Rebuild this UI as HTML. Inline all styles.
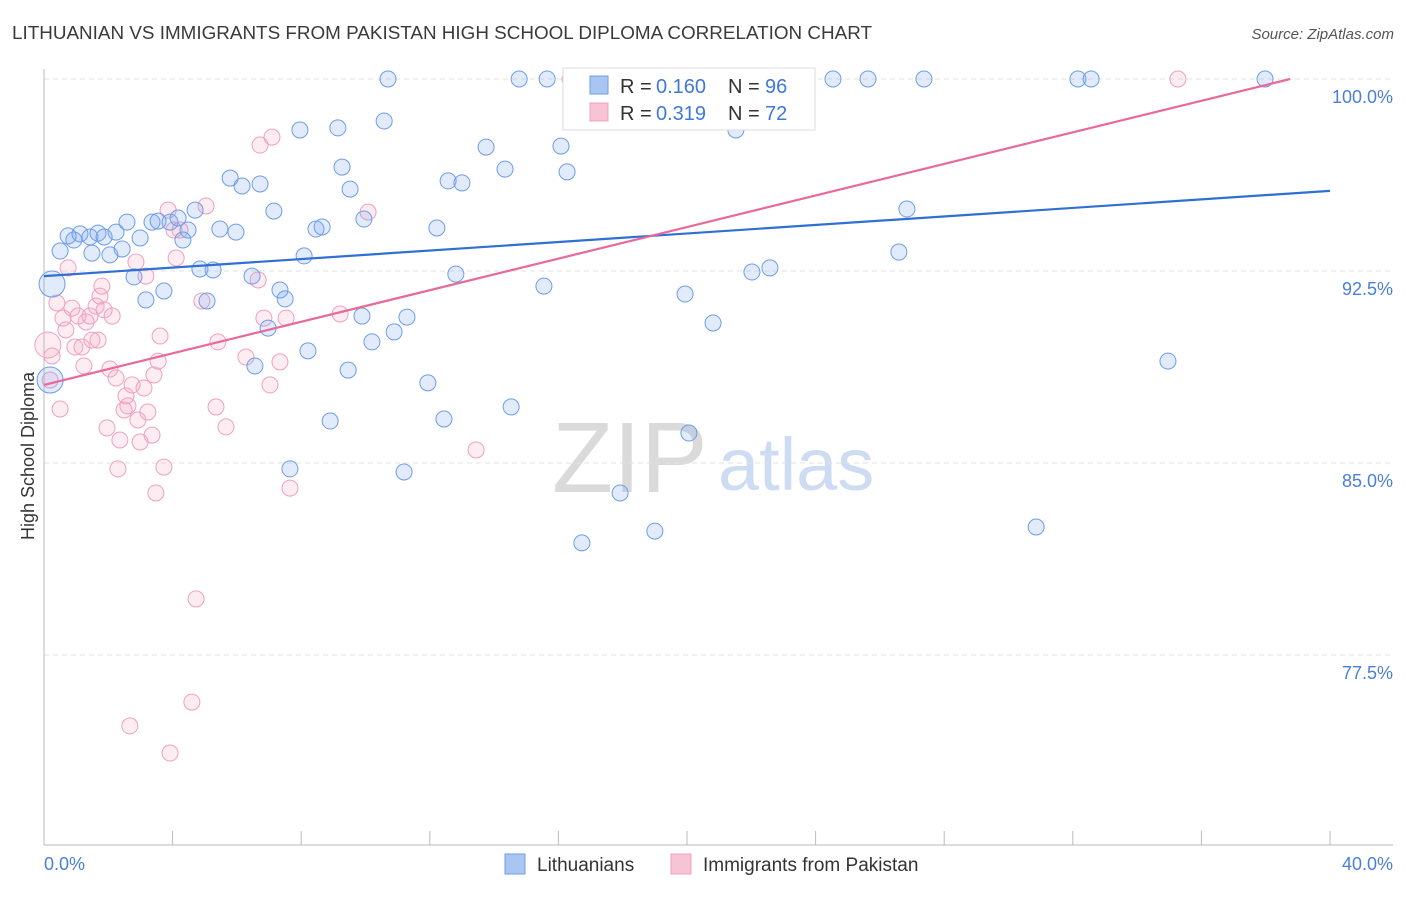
<!DOCTYPE html>
<html><head><meta charset="utf-8"><style>
body{margin:0;background:#fff;font-family:"Liberation Sans",sans-serif;}
svg text{font-family:"Liberation Sans",sans-serif;}
</style></head><body>
<svg id="chart" width="1406" height="892" viewBox="0 0 1406 892" xmlns="http://www.w3.org/2000/svg">
<text x="12" y="39" font-size="18" fill="#3a3a3a" textLength="860" lengthAdjust="spacingAndGlyphs">LITHUANIAN VS IMMIGRANTS FROM PAKISTAN HIGH SCHOOL DIPLOMA CORRELATION CHART</text>
<text x="1394" y="39" font-size="15" fill="#555" font-style="italic" text-anchor="end">Source: ZipAtlas.com</text>
<g>
<text x="552" y="492" font-size="100" fill="#dadada" font-family="Liberation Serif,serif">ZIP</text>
<text x="718" y="490" font-size="74" fill="#cddcf2">atlas</text>
</g>
<g id="grid"></g>
<g id="axes"></g>
<g id="marks"></g>
<text transform="translate(34,456) rotate(-90)" font-size="18" fill="#333" text-anchor="middle">High School Diploma</text>
<g>
<rect x="563" y="68" width="252" height="62" fill="#fff" stroke="#ddd"/>
<rect x="590" y="76" width="18" height="18" fill="#a9c6f2" stroke="#6d9de8"/>
<rect x="590" y="103" width="18" height="18" fill="#f8c3d4" stroke="#f0a0bc"/>
<text x="620" y="93" font-size="20" fill="#333">R =</text>
<text x="656" y="93" font-size="20" fill="#3f78d8">0.160</text>
<text x="728" y="93" font-size="20" fill="#333">N =</text>
<text x="765" y="93" font-size="20" fill="#3f78d8">96</text>
<text x="620" y="120" font-size="20" fill="#333">R =</text>
<text x="656" y="120" font-size="20" fill="#3f78d8">0.319</text>
<text x="728" y="120" font-size="20" fill="#333">N =</text>
<text x="765" y="120" font-size="20" fill="#3f78d8">72</text>
</g>
<g>
<rect x="505" y="854" width="20" height="20" fill="#a9c6f2" stroke="#6d9de8"/>
<text x="537" y="871" font-size="19" fill="#333">Lithuanians</text>
<rect x="671" y="854" width="20" height="20" fill="#f8c3d4" stroke="#f0a0bc"/>
<text x="703" y="871" font-size="19" fill="#333">Immigrants from Pakistan</text>
</g>
</svg>
<script>
const blueX=[0.50,0.75,0.93,1.12,1.43,1.49,1.68,1.87,2.05,2.24,2.43,2.58,2.80,2.99,3.17,3.36,3.55,3.73,3.92,4.17,4.32,4.48,4.70,4.85,5.07,5.26,5.47,5.79,5.97,6.16,6.47,6.56,6.72,6.97,7.15,7.34,7.50,7.65,7.96,8.09,8.21,8.46,8.65,8.90,9.14,9.27,9.46,9.52,9.89,9.95,10.20,10.58,10.70,10.89,11.20,11.29,11.94,12.22,12.44,12.57,12.81,13.00,13.75,14.34,14.53,14.78,15.55,15.65,16.08,16.27,16.73,17.92,19.00,19.94,20.06,20.81,21.52,22.02,22.58,22.77,23.51,24.54,25.63,26.59,26.84,27.37,30.86,32.16,32.57,34.96,37.98,17.08,18.16,21.49];
const blueY=[93.28,93.87,93.71,93.95,93.83,93.20,93.98,93.83,93.13,94.02,93.36,94.41,92.27,93.79,91.37,94.41,94.45,91.72,94.41,94.57,93.71,94.10,94.88,92.58,91.33,92.54,94.14,96.13,94.02,95.82,92.30,88.79,95.90,90.27,94.84,91.76,91.41,84.77,98.01,93.09,89.38,94.14,94.22,86.64,98.09,96.56,88.63,95.70,90.74,94.53,89.73,98.36,100,90.12,84.65,90.70,88.13,94.18,86.72,96.02,92.38,95.94,97.34,96.48,87.19,100,91.91,100,97.38,96.37,81.88,83.83,82.34,91.60,86.17,90.47,98.01,92.46,92.62,100,100,100,100,93.24,94.92,100,82.50,100,100,88.98,100,100,100,100];
const blueBigX=[0.25,0.19];
const blueBigY=[91.99,88.24];
const pinkX=[0.19,0.25,0.40,0.50,0.59,0.68,0.75,0.87,0.96,1.06,1.18,1.24,1.31,1.43,1.49,1.62,1.68,1.74,1.80,1.87,1.96,2.05,2.12,2.24,2.30,2.36,2.49,2.55,2.61,2.67,2.74,2.86,2.92,2.99,3.11,3.17,3.23,3.36,3.42,3.48,3.55,3.61,3.73,3.86,3.92,4.04,4.11,4.23,4.60,4.73,4.91,5.04,5.35,5.41,5.66,6.28,6.66,6.72,6.84,7.03,7.09,7.34,7.53,7.65,9.21,10.08,13.44,16.36,35.27];
const pinkY=[88.24,89.18,91.25,87.11,90.66,90.20,92.62,91.05,89.53,90.74,89.53,88.79,90.51,90.74,89.80,91.13,89.80,91.52,91.91,90.98,86.37,88.67,90.74,88.32,84.77,85.90,87.07,87.62,87.23,74.73,88.05,92.85,86.68,85.82,87.93,92.30,86.99,86.09,88.44,83.83,88.98,89.96,84.84,94.88,73.67,94.10,93.01,94.10,75.66,79.69,91.33,95.04,87.19,89.73,86.41,89.14,92.15,97.42,90.66,88.05,97.73,88.95,90.66,84.02,90.82,94.80,85.51,100,100];
const pinkBigX=[0.12];
const pinkBigY=[89.61];
const blueTrend=[92.30,95.63];
const pinkTrend=[88.05,100.00];
const pinkTrendEnd=[38.76];
const yTicks=[100,92.5,85,77.5];
const yTickLabels=["100.0%","92.5%","85.0%","77.5%"];
const xTicks=[0,4,8,12,16,20,24,28,32,36,40];
const xTickLabels=["0.0%","40.0%"];

const NS="http://www.w3.org/2000/svg";
const sx=v=>44+v*32.15;
const sy=v=>79+(100-v)*25.6;
function mk(tag,attrs,parent){const e=document.createElementNS(NS,tag);for(const k in attrs)e.setAttribute(k,attrs[k]);parent.appendChild(e);return e;}
const grid=document.getElementById('grid'),axes=document.getElementById('axes'),marks=document.getElementById('marks');
yTicks.forEach((t,i)=>{
  const l=mk('line',{x1:44,x2:1393,y1:sy(t),y2:sy(t),stroke:'#e2e2e2','stroke-dasharray':'5,4'},grid);
  
  
  const tx=mk('text',{x:1393,y:sy(t)+24,'font-size':18,fill:'#4a7fd8','text-anchor':'end'},axes);
  tx.textContent=yTickLabels[i];
  
  
});
const ya=mk('line',{x1:44,x2:44,y1:69,y2:845,stroke:'#bbb'},axes);


const xa=mk('line',{x1:44,x2:1393,y1:845,y2:845,stroke:'#bbb'},axes);


xTicks.forEach(t=>{
  const l=mk('line',{x1:sx(t),x2:sx(t),y1:831,y2:845,stroke:'#bbb'},axes);
  
  
});
const xl0=mk('text',{x:44,y:870,'font-size':18,fill:'#4a7fd8'},axes);
xl0.textContent=xTickLabels[0];


const xl1=mk('text',{x:1393,y:870,'font-size':18,fill:'#4a7fd8','text-anchor':'end'},axes);
xl1.textContent=xTickLabels[1];



function dots(xs,ys,r,fill,stroke,name){
  xs.forEach((x,i)=>{
    const c=mk('circle',{cx:sx(x),cy:sy(ys[i]),r:r,fill:fill,stroke:stroke,'stroke-width':1},marks);
    
    
  });
}
dots(pinkX,pinkY,8,'rgba(246,170,196,0.22)','#f0a0bc','pakistan-point');
dots(pinkBigX,pinkBigY,13,'rgba(246,170,196,0.22)','#f0a0bc','pakistan-point');
dots(blueX,blueY,8,'rgba(120,165,235,0.22)','#6d9de8','lithuanian-point');
dots(blueBigX,blueBigY,13,'rgba(120,165,235,0.22)','#6d9de8','lithuanian-point');
const bt=mk('line',{x1:sx(0),y1:sy(blueTrend[0]),x2:sx(40),y2:sy(blueTrend[1]),stroke:'#2f6fd6','stroke-width':2.2},marks);


const pt=mk('line',{x1:sx(0),y1:sy(pinkTrend[0]),x2:sx(pinkTrendEnd[0]),y2:sy(pinkTrend[1]),stroke:'#e8699a','stroke-width':2.2},marks);


</script>
</body></html>
